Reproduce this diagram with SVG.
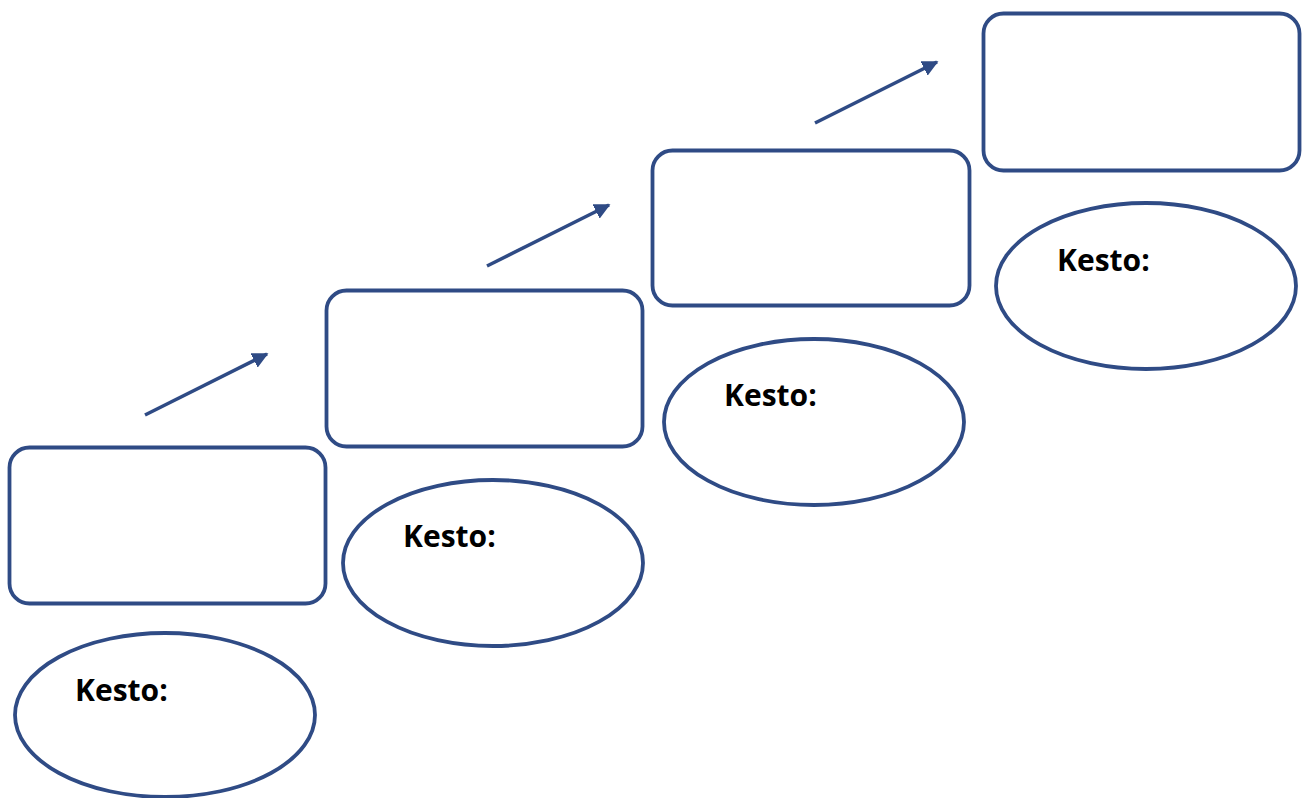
<svg xmlns="http://www.w3.org/2000/svg" width="1302" height="798" viewBox="0 0 1302 798">
<style>
.box{fill:#fff;stroke:#2F4B85;stroke-width:3.8}
.ell{fill:#fff;stroke:#2F4B85;stroke-width:3.8}
.lbl{font-family:"Open Sans","Noto Sans",sans-serif;font-weight:bold;font-size:30px;fill:#000}
.arr{stroke:#2F4B85;stroke-width:3.5;fill:none;marker-end:url(#ah)}
</style>
<defs>
<marker id="ah" viewBox="0 0 10 10" refX="9" refY="5" markerWidth="4.6" markerHeight="4.6" orient="auto" markerUnits="strokeWidth">
<path d="M0,0 L10,5 L0,10 z" fill="#2F4B85"/>
</marker>
</defs>
<rect width="1302" height="798" fill="#fff"/>
<g id="connectors">
<line class="arr" x1="145" y1="415" x2="267" y2="354"/>
<line class="arr" x1="487" y1="266" x2="609" y2="205"/>
<line class="arr" x1="815" y1="123" x2="937" y2="62"/>
</g>
<g id="step1"><rect class="box" x="9.5" y="447.5" width="316" height="156" rx="20"/></g>
<g id="duration1"><ellipse class="ell" cx="165" cy="715" rx="150" ry="82"/><text class="lbl" x="75" y="701">Kesto:</text></g>
<g id="step2"><rect class="box" x="326.5" y="290.5" width="316" height="156" rx="20"/></g>
<g id="duration2"><ellipse class="ell" cx="493" cy="563" rx="150" ry="83"/><text class="lbl" x="403" y="547">Kesto:</text></g>
<g id="step3"><rect class="box" x="652.5" y="150.5" width="317" height="155" rx="20"/></g>
<g id="duration3"><ellipse class="ell" cx="814" cy="422" rx="150" ry="83"/><text class="lbl" x="724" y="406">Kesto:</text></g>
<g id="step4"><rect class="box" x="983.5" y="13.5" width="316" height="157" rx="20"/></g>
<g id="duration4"><ellipse class="ell" cx="1146" cy="286" rx="150" ry="83"/><text class="lbl" x="1057" y="271">Kesto:</text></g>
</svg>
